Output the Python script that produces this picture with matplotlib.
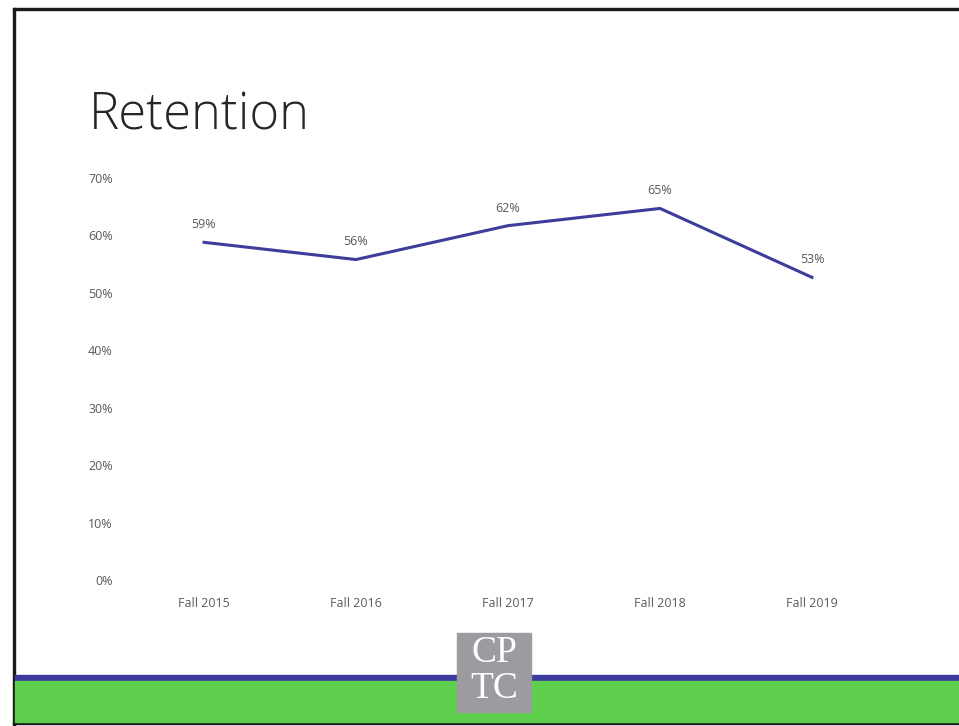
import matplotlib.pyplot as plt
from matplotlib.patches import Rectangle
from matplotlib.ticker import PercentFormatter

# retention by fall term
terms = ["Fall 2015", "Fall 2016", "Fall 2017", "Fall 2018", "Fall 2019"]
retention = [0.588, 0.558, 0.617, 0.647, 0.527]
yticks = [0, 0.1, 0.2, 0.3, 0.4, 0.5, 0.6, 0.7]

W, H = 959, 726
LINE = "#3d3d9c"
GRAY = "#595959"

fig = plt.figure(figsize=(W / 100, H / 100), dpi=100, facecolor="white")

def px(x, y, w, h):
    # pixel box (top-left origin) -> figure fraction
    return [x / W, 1 - (y + h) / H, w / W, h / H]

# slide frame and footer bands
fig.patches.append(Rectangle((13 / W, 0), 2 / W, 1 - 8 / H, transform=fig.transFigure, color="#1a1a1a"))
fig.patches.append(Rectangle((13 / W, 1 - 10 / H), 1, 2 / H, transform=fig.transFigure, color="#1a1a1a"))
fig.patches.append(Rectangle((13 / W, 1 - 724 / H), 1, 2 / H, transform=fig.transFigure, color="#1a1a1a"))
fig.patches.append(Rectangle((15 / W, 1 - 681 / H), 1, 6 / H, transform=fig.transFigure, color="#3b3b9e"))
fig.patches.append(Rectangle((15 / W, 1 - 722 / H), 1, 41 / H, transform=fig.transFigure, color="#5dcf4c"))

# CPTC logo
fig.patches.append(Rectangle((457 / W, 1 - 712 / H), 74 / W, 79 / H, transform=fig.transFigure, color="#9b9ba0"))
fig.text(494 / W, 1 - 653 / H, "CP", ha="center", va="center", color="white",
         fontsize=27, family="Liberation Serif")
fig.text(494 / W, 1 - 689 / H, "TC", ha="center", va="center", color="white",
         fontsize=27, family="Liberation Serif")

fig.text(89 / W, 1 - 116 / H, "Retention", ha="left", va="center", color="#262626",
         fontsize=36.5, family="Open Sans", fontweight="light")

ax = fig.add_axes(px(128, 178, 760, 402))
x = range(len(terms))
ax.plot(x, retention, color=LINE, lw=2.2, solid_joinstyle="miter")
for xi, v in zip(x, retention):
    ax.annotate(f"{v:.0%}", (xi, v), xytext=(0, 8), textcoords="offset points",
                ha="center", va="bottom", fontsize=9, color=GRAY, family="Open Sans")

ax.set_xlim(-0.5, len(terms) - 0.5)
ax.set_ylim(0, 0.7)
ax.set_yticks(yticks)
ax.yaxis.set_major_formatter(PercentFormatter(1.0, decimals=0))
ax.set_xticks(list(x))
ax.set_xticklabels(terms)
ax.tick_params(length=0, labelsize=9, labelcolor=GRAY)
ax.tick_params(axis="y", pad=11)
ax.tick_params(axis="x", pad=12)
for lbl in ax.get_xticklabels() + ax.get_yticklabels():
    lbl.set_family("Open Sans")
for s in ax.spines.values():
    s.set_visible(False)
ax.set_facecolor("none")

plt.savefig("out.png", dpi=100)
